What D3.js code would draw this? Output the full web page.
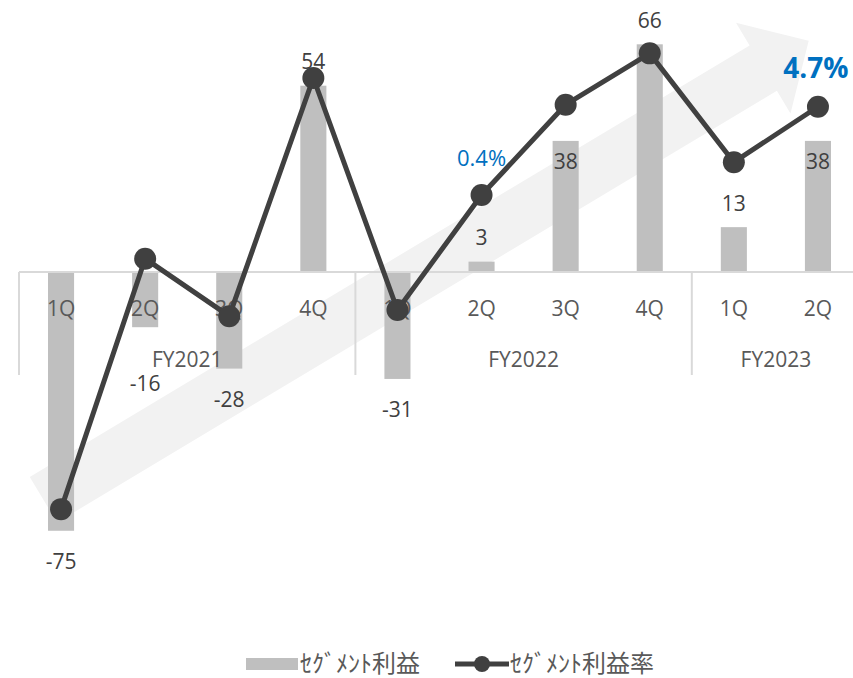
<!DOCTYPE html>
<html>
<head>
<meta charset="utf-8">
<script src="https://cdn.jsdelivr.net/npm/d3@7"></script>
<style>
  html, body { margin: 0; padding: 0; background: #fff; }
  svg { display: block; }
  text { font-family: "Open Sans", "Noto Sans", "Noto Sans CJK JP", sans-serif; }
</style>
</head>
<body>
<svg id="chart" width="853" height="678"></svg>
<script>
// Quarterly segment profit (bars) and segment profit margin (line, %)
const quarters = ["1Q", "2Q", "3Q", "4Q", "1Q", "2Q", "3Q", "4Q", "1Q", "2Q"];
const fiscalYears = ["FY2021", "FY2022", "FY2023"];
const quartersPerYear = [4, 4, 2];
const segmentProfit = [-75, -16, -28, 54, -31, 3, 38, 66, 13, 38];
const profitMargin = [-14.9, -2.7, -5.5, 6.1, -5.2, 0.4, 4.8, 7.3, 2.0, 4.7];
const marginLabelIndex = [5, 9];
const legendNames = ["ｾｸﾞﾒﾝﾄ利益", "ｾｸﾞﾒﾝﾄ利益率"];

const svg = d3.select("#chart");
const BAR = "#bfbfbf", LINE = "#404040", AXIS = "#d9d9d9", TXT = "#404040", BLUE = "#0070c0";
const JP = "'Noto Sans CJK JP', 'Noto Sans', sans-serif";
const FS = 21;

const idx = d3.range(quarters.length);
const x = d3.scaleBand().domain(idx).range([19, 860]);
const cx = i => x(i) + x.bandwidth() / 2;
const barW = x.bandwidth() * 0.31;

const yBar = d3.scaleLinear().domain([-80, 80]).range([548, -4]);
const yRate = d3.scaleLinear().domain([-15, 8]).range([511.2, 39]);

// slot scale (continuous category position) used for the trend arrow
const slot = d3.scaleLinear().domain([0, quarters.length]).range([19, 860]);

// background trend arrow
(function drawArrow() {
  const p0 = [slot(0.29), yBar(-66)];
  const p1 = [slot(9.39), yBar(67)];
  const dx = p1[0] - p0[0], dy = p1[1] - p0[1];
  const L = Math.hypot(dx, dy);
  const ux = dx / L, uy = dy / L, nx = -uy, ny = ux;
  const shaft = 26.5, head = 53, headLen = 53;
  const b = [p1[0] - ux * headLen, p1[1] - uy * headLen];
  const pt = (p, s) => [p[0] + nx * s, p[1] + ny * s];
  const pts = [pt(p0, -shaft), pt(b, -shaft), pt(b, -head), p1, pt(b, head), pt(b, shaft), pt(p0, shaft)];
  svg.append("path")
    .attr("d", "M" + pts.map(p => p.join(",")).join("L") + "Z")
    .attr("fill", "#f2f2f2");
})();

// bars
svg.append("g").selectAll("rect").data(segmentProfit).join("rect")
  .attr("x", (d, i) => cx(i) - barW / 2)
  .attr("width", barW)
  .attr("y", d => Math.min(yBar(d), yBar(0)))
  .attr("height", d => Math.abs(yBar(d) - yBar(0)))
  .attr("fill", BAR);

// category axis: baseline, group separators, quarter and year labels
const y0 = yBar(0);
svg.append("line").attr("x1", x.range()[0]).attr("x2", 853)
  .attr("y1", y0).attr("y2", y0).attr("stroke", AXIS).attr("stroke-width", 2);

let start = 0;
const bounds = [0];
quartersPerYear.forEach(n => { start += n; bounds.push(start); });
bounds.slice(0, -1).forEach(b => {
  svg.append("line").attr("x1", slot(b)).attr("x2", slot(b))
    .attr("y1", y0).attr("y2", 375).attr("stroke", AXIS).attr("stroke-width", 2);
});

svg.append("g").selectAll("text").data(quarters).join("text")
  .attr("x", (d, i) => cx(i)).attr("y", 309).attr("dy", "0.35em")
  .attr("text-anchor", "middle").attr("font-size", FS).attr("fill", "#595959")
  .text(d => d);

svg.append("g").selectAll("text").data(fiscalYears).join("text")
  .attr("x", (d, i) => (slot(bounds[i]) + slot(bounds[i + 1])) / 2)
  .attr("y", 360).attr("dy", "0.35em")
  .attr("text-anchor", "middle").attr("font-size", FS).attr("fill", "#595959")
  .text(d => d);

// bar value labels: outside the bar end, with a few moved clear of the line
const labelPos = (d, i) => {
  if (i === 6 || i === 9) return yBar(d) + 21;        // inside the bar top
  if (i === 1) return yBar(d) + 56;                  // below the year label
  return d >= 0 ? yBar(d) - 24 : yBar(d) + 31;
};

// margin line
const line = d3.line().x((d, i) => cx(i)).y(d => yRate(d));
svg.append("path").datum(profitMargin)
  .attr("d", line).attr("fill", "none")
  .attr("stroke", LINE).attr("stroke-width", 5).attr("stroke-linejoin", "round");
svg.append("g").selectAll("circle").data(profitMargin).join("circle")
  .attr("cx", (d, i) => cx(i)).attr("cy", d => yRate(d)).attr("r", 11)
  .attr("fill", LINE);

svg.append("g").selectAll("text").data(segmentProfit).join("text")
  .attr("x", (d, i) => cx(i)).attr("y", labelPos).attr("dy", "0.35em")
  .attr("text-anchor", "middle").attr("font-size", FS).attr("fill", TXT)
  .text(d => d);

// margin labels
const fmt = d3.format(".1f");
marginLabelIndex.forEach((i, k) => {
  const last = k === marginLabelIndex.length - 1;
  svg.append("text")
    .attr("x", cx(i) - (last ? 2 : 0)).attr("y", yRate(profitMargin[i]) - (last ? 39 : 37))
    .attr("dy", "0.35em").attr("text-anchor", "middle")
    .attr("font-size", last ? 28 : 22).attr("font-weight", last ? 700 : 400)
    .attr("fill", BLUE)
    .text(fmt(profitMargin[i]) + "%");
});

// legend
const lg = svg.append("g").attr("transform", "translate(0,664)");
lg.append("rect").attr("x", 246).attr("y", -6).attr("width", 52).attr("height", 12).attr("fill", BAR);
lg.append("text").attr("x", 300).attr("dy", "0.35em").attr("font-size", 24)
  .attr("fill", "#595959").style("font-family", JP).text(legendNames[0]);
lg.append("line").attr("x1", 455).attr("x2", 509).attr("stroke", LINE).attr("stroke-width", 5);
lg.append("circle").attr("cx", 482).attr("r", 8).attr("fill", LINE);
lg.append("text").attr("x", 510).attr("dy", "0.35em").attr("font-size", 24)
  .attr("fill", "#595959").style("font-family", JP).text(legendNames[1]);
</script>
</body>
</html>
